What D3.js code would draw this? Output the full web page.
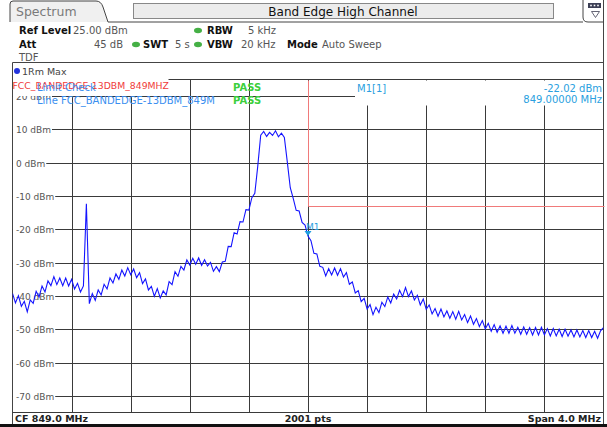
<!DOCTYPE html>
<html>
<head>
<meta charset="utf-8">
<script src="https://cdn.jsdelivr.net/npm/d3@7"></script>
<style>
  body { margin: 0; background: #fff; }
  svg { font-family: "DejaVu Sans", Verdana, sans-serif; }
</style>
</head>
<body>
<svg id="chart" width="607" height="427"></svg>
<script>
// trace sweep: 847.0 .. 851.0 MHz, one reading every 0.02 MHz
const START_MHZ = 847.0;
const STEP_MHZ = 0.02;
const levelDbm = [
  -39.2, -42.1, -39.9, -43.1, -41.6, -44.8, -41.2, -42.2, -38.6, -40.3,
  -37.0, -38.8, -35.5, -36.9, -34.2, -36.6, -34.6, -36.9, -34.6, -37.0,
  -35.0, -37.9, -36.2, -38.8, -37.0, -12.3, -42.3, -39.3, -41.3, -38.2,
  -39.7, -36.5, -37.9, -34.6, -36.1, -33.4, -35.0, -32.2, -34.0, -31.5,
  -33.6, -31.9, -34.5, -33.0, -36.3, -34.9, -38.2, -37.1, -40.1, -37.8,
  -40.6, -38.5, -39.7, -35.7, -36.6, -32.7, -34.1, -31.1, -32.2, -29.2,
  -30.7, -28.7, -30.5, -28.6, -30.8, -29.1, -31.0, -29.9, -32.6, -31.2,
  -32.7, -29.8, -29.6, -25.1, -25.2, -21.0, -21.4, -17.7, -17.8, -14.1,
  -14.2, -10.5, -9.2, -1.0, 8.3, 9.4, 7.9, 9.1, 8.2, 9.6,
  7.8, 8.9, 7.6, 0.2, -7.5, -10.7, -14.3, -14.5, -17.9, -18.7,
  -22.02, -23.4, -27.2, -27.4, -31.1, -31.4, -34.0, -31.8, -33.7, -31.6,
  -33.8, -31.8, -34.3, -33.0, -36.5, -35.8, -39.1, -38.4, -41.7, -40.7,
  -43.9, -42.6, -45.6, -43.4, -45.0, -41.9, -43.2, -40.3, -42.1, -39.4,
  -40.9, -38.3, -40.2, -37.5, -40.2, -38.5, -41.2, -39.8, -42.7, -40.9,
  -44.0, -42.7, -45.4, -43.8, -46.1, -43.9, -46.3, -44.5, -46.7, -44.7,
  -47.0, -44.6, -47.2, -45.6, -48.0, -46.0, -48.5, -46.8, -49.2, -47.4,
  -49.9, -48.2, -50.6, -48.6, -50.9, -49.0, -51.2, -49.1, -51.2, -48.9,
  -51.2, -49.4, -51.5, -49.3, -51.5, -49.5, -51.7, -49.5, -51.7, -49.4,
  -51.7, -49.8, -52.0, -49.8, -52.0, -50.0, -52.2, -50.0, -52.1, -50.2,
  -52.3, -50.2, -52.3, -50.4, -52.5, -50.4, -52.5, -50.6, -52.7, -50.5,
  -49.5
];

// limit line FCC_BANDEDGE-13DBM_849MHZ
const limitMHz = [849.0, 849.0, 851.0];
const limitDbm = [25, -13, -13];

// marker M1
const markerMHz = 849.0;
const markerDbm = -22.02;

// axes
const yTicks = [20, 10, 0, -10, -20, -30, -40, -50, -60, -70];
const xGridMHz = [847.4, 847.8, 848.2, 848.6, 849.0, 849.4, 849.8, 850.2, 850.6];

const PLOT = {left: 12.5, right: 603.5, top: 79.5, bottom: 412.5};

const svg = d3.select('#chart');

const x = d3.scaleLinear().domain([847, 851]).range([PLOT.left, PLOT.right]);
const y = d3.scaleLinear().domain([25, -75]).range([PLOT.top, PLOT.bottom]);

const GRID = '#3a3a3a';

//---- header ----
svg.append('path')
  .attr('d', 'M10,22 L10,4 Q10,1 13,1 L96,1 Q101,1 103,7 L108,22')
  .attr('fill', '#f0f0f0')
  .attr('stroke', '#444');
svg.append('text').attr('x', 16).attr('y', 16)
  .attr('font-size', 12.5).attr('fill', '#7a7a7a').text('Spectrum');

svg.append('line').attr('x1', 108).attr('x2', 583).attr('y1', 22).attr('y2', 22).attr('stroke', '#444');

svg.append('rect').attr('x', 133.5).attr('y', 3.5).attr('width', 420).attr('height', 15)
  .attr('fill', '#ececec').attr('stroke', '#888');
svg.append('text').attr('x', 343).attr('y', 15.5).attr('text-anchor', 'middle')
  .attr('font-size', 12).attr('fill', '#111').text('Band Edge High Channel');

// icon box top-right
svg.append('path')
  .attr('d', 'M583,0 L583,17 Q583,22 588,22 L603.5,22 L603.5,0')
  .attr('fill', '#fff').attr('stroke', '#444');
svg.append('rect').attr('x', 588).attr('y', 3).attr('width', 13).attr('height', 5).attr('fill', '#3c3f55');
[591, 594.5, 598].forEach(cx => {
  svg.append('rect').attr('x', cx - 0.8).attr('y', 4.7).attr('width', 1.6).attr('height', 1.6).attr('fill', '#fff');
});
svg.append('path').attr('d', 'M591.5,11.5 L599.5,11.5 L595.5,17.5 Z')
  .attr('fill', 'none').attr('stroke', '#556').attr('stroke-width', 0.9);

// settings rows
const bold = (t, xx, yy) => svg.append('text').attr('x', xx).attr('y', yy)
  .attr('font-size', 10).attr('font-weight', 'bold').attr('fill', '#111').text(t);
const norm = (t, xx, yy, anchor) => svg.append('text').attr('x', xx).attr('y', yy)
  .attr('font-size', 10).attr('fill', '#555').attr('text-anchor', anchor || 'start').text(t);
const dot = (cx, cy) => svg.append('ellipse').attr('cx', cx).attr('cy', cy)
  .attr('rx', 4).attr('ry', 2.8).attr('fill', '#45b045');

bold('Ref Level', 19, 34); norm('25.00 dBm', 73, 34);
dot(198, 30.5); bold('RBW', 207, 34); norm('5 kHz', 248, 34);
bold('Att', 19, 48); norm('45 dB', 123, 48, 'end');
dot(136, 44.5); bold('SWT', 143, 48); norm('5 s', 175, 48);
dot(198, 44.5); bold('VBW', 207, 48); norm('20 kHz', 241, 48);
bold('Mode', 287, 48); norm('Auto Sweep', 322, 48);
norm('TDF', 19, 61);

// frame
svg.append('line').attr('x1', 12.5).attr('x2', 603.5).attr('y1', 62.5).attr('y2', 62.5).attr('stroke', '#444');
svg.append('line').attr('x1', 603.5).attr('x2', 603.5).attr('y1', 22).attr('y2', 427).attr('stroke', '#444');
svg.append('line').attr('x1', 12.5).attr('x2', 12.5).attr('y1', 62.5).attr('y2', 427).attr('stroke', '#444');

svg.append('circle').attr('cx', 17).attr('cy', 71).attr('r', 3).attr('fill', '#2233dd');
svg.append('text').attr('x', 22).attr('y', 75).attr('font-size', 9.5).attr('fill', '#444').text('1Rm Max');

//---- grid ----
const grid = svg.append('g');
grid.append('line').attr('x1', PLOT.left).attr('x2', PLOT.right)
  .attr('y1', PLOT.top).attr('y2', PLOT.top).attr('stroke', GRID);
grid.selectAll('line.h').data(yTicks).enter().append('line')
  .attr('class', 'h')
  .attr('x1', PLOT.left).attr('x2', PLOT.right)
  .attr('y1', d => Math.round(y(d)) + 0.5).attr('y2', d => Math.round(y(d)) + 0.5)
  .attr('stroke', GRID);
grid.selectAll('line.v').data(xGridMHz).enter().append('line')
  .attr('class', 'v')
  .attr('x1', d => Math.round(x(d)) + 0.5).attr('x2', d => Math.round(x(d)) + 0.5)
  .attr('y1', PLOT.top).attr('y2', PLOT.bottom)
  .attr('stroke', GRID);
grid.append('line').attr('x1', PLOT.left).attr('x2', PLOT.right)
  .attr('y1', PLOT.bottom).attr('y2', PLOT.bottom).attr('stroke', GRID);

// y labels with white backing so the gridline breaks
const yLab = svg.append('g');
yTicks.forEach(v => {
  const yy = Math.round(y(v)) + 0.5;
  const t = yLab.append('text').attr('x', 16).attr('y', yy + 3.5)
    .attr('font-size', 9).attr('fill', '#555').text(v + ' dBm');
  const w = t.node().getComputedTextLength();
  yLab.insert('rect', 'text').attr('x', 13).attr('y', yy - 5).attr('width', w + 4).attr('height', 10).attr('fill', '#fff');
});

//---- trace ----
svg.append('clipPath').attr('id', 'clip').append('rect')
  .attr('x', PLOT.left).attr('y', PLOT.top).attr('width', PLOT.right - PLOT.left).attr('height', PLOT.bottom - PLOT.top);

const traceLine = d3.line()
  .x((d, i) => x(START_MHZ + i * STEP_MHZ))
  .y(d => y(d));

svg.append('path')
  .datum(levelDbm)
  .attr('clip-path', 'url(#clip)')
  .attr('d', traceLine)
  .attr('fill', 'none')
  .attr('stroke', '#1414ff')
  .attr('stroke-width', 1.1);

// limit line
const limitLine = d3.line().x(d => Math.round(x(d[0])) + 0.5).y(d => Math.round(y(d[1])) + 0.5);
svg.append('path')
  .datum(limitMHz.map((f, i) => [f, limitDbm[i]]))
  .attr('d', limitLine)
  .attr('fill', 'none')
  .attr('stroke', '#f07a7a')
  .attr('stroke-width', 1);

// marker
const mx = x(markerMHz), my = y(markerDbm);
svg.append('path')
  .attr('d', `M${mx - 3.5},${my - 5} L${mx + 3.5},${my - 5} L${mx},${my} Z`)
  .attr('fill', '#1e9ee0');
svg.append('text').attr('x', mx - 2).attr('y', my - 6)
  .attr('font-size', 9).attr('fill', '#2aa0e0').text('M1');

//---- limit check legend ----
svg.append('rect').attr('x', 13).attr('y', 79).attr('width', 155.5).attr('height', 17).attr('fill', '#fff');
svg.append('text').attr('x', 12.5).attr('y', 89).attr('font-size', 9.3).attr('fill', '#f03a3a')
  .text('FCC_BANDEDGE-13DBM_849MHZ');
svg.append('text').attr('x', 37).attr('y', 90.5).attr('font-size', 10).attr('fill', '#3a8ff0')
  .text('Limit Check');
svg.append('text').attr('x', 233).attr('y', 90.5).attr('font-size', 10).attr('font-weight', 'bold')
  .attr('fill', '#3ccf3c').text('PASS');
svg.append('text').attr('x', 37).attr('y', 103.5).attr('font-size', 10).attr('fill', '#3a8ff0')
  .text('Line FCC_BANDEDGE-13DBM_849M');
svg.append('text').attr('x', 233).attr('y', 103.5).attr('font-size', 10).attr('font-weight', 'bold')
  .attr('fill', '#3ccf3c').text('PASS');

//---- marker info ----
svg.append('rect').attr('x', 355).attr('y', 80.5).attr('width', 248).attr('height', 25).attr('fill', '#fff');
const MK = '#2a9fe0';
svg.append('text').attr('x', 357).attr('y', 91.5).attr('font-size', 10).attr('fill', MK).text('M1[1]');
svg.append('text').attr('x', 602).attr('y', 91.5).attr('font-size', 10).attr('fill', MK)
  .attr('text-anchor', 'end').text(markerDbm.toFixed(2) + ' dBm');
svg.append('text').attr('x', 602).attr('y', 103).attr('font-size', 10).attr('fill', MK)
  .attr('text-anchor', 'end').text(markerMHz.toFixed(5) + ' MHz');

//---- footer ----
svg.append('rect').attr('x', 13).attr('y', 413).attr('width', 590).attr('height', 10).attr('fill', '#fff');
const foot = (t, xx, anchor) => svg.append('text').attr('x', xx).attr('y', 421.5)
  .attr('font-size', 9.5).attr('font-weight', 'bold').attr('fill', '#222')
  .attr('text-anchor', anchor).text(t);
foot('CF 849.0 MHz', 15, 'start');
foot('2001 pts', 308, 'middle');
foot('Span 4.0 MHz', 601, 'end');
svg.append('rect').attr('x', 0).attr('y', 424).attr('width', 607).attr('height', 3).attr('fill', '#111');
</script>
</body>
</html>
